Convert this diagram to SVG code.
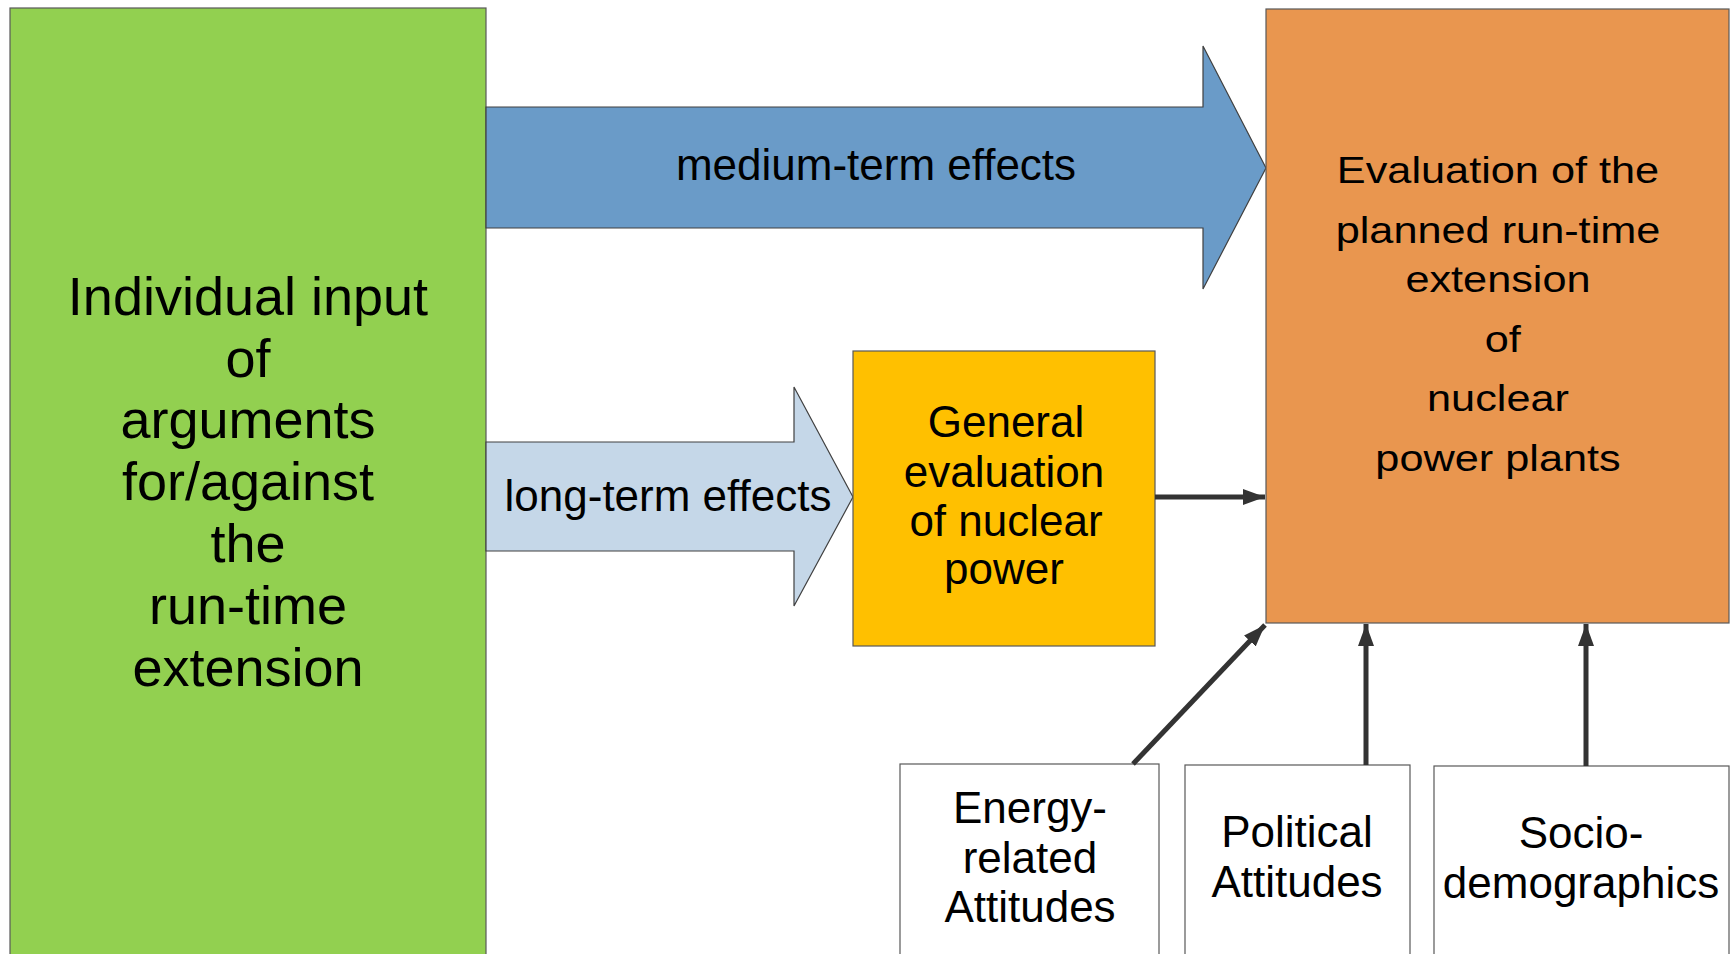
<svg xmlns="http://www.w3.org/2000/svg" width="1734" height="954" viewBox="0 0 1734 954">
<defs>
<style>
.t{font-family:"Liberation Sans",Arial,sans-serif;fill:#000;text-anchor:middle}
.t44{font-size:44px}
.t54{font-size:54px}
.t37{font-size:37px}
.box{stroke:#595959;stroke-width:1.2}
.conn{stroke:#333;stroke-width:5;fill:none}
.fat{stroke:#404040;stroke-width:1.2}
</style>
<marker id="ah" markerUnits="userSpaceOnUse" markerWidth="24" markerHeight="18" refX="22" refY="8" orient="auto">
<path d="M0,0 L22,8 L0,16 z" fill="#333"/>
</marker>
</defs>
<rect width="1734" height="954" fill="#fff"/>

<g id="input">
<rect class="box" x="10" y="8" width="476" height="960" fill="#92D050"/>
<text class="t t54" x="248"><tspan x="248" y="315">Individual input</tspan><tspan x="248" y="377">of</tspan><tspan x="248" y="438">arguments</tspan><tspan x="248" y="500">for/against</tspan><tspan x="248" y="562">the</tspan><tspan x="248" y="624">run-time</tspan><tspan x="248" y="686">extension</tspan></text>
</g>

<g id="medium-term">
<path class="fat" d="M486,107 L1203,107 L1203,46 L1266,168 L1203,289 L1203,228 L486,228 Z" fill="#6A9BC8"/>
<text class="t t44" x="876" y="180">medium-term effects</text>
</g>

<g id="long-term">
<path class="fat" d="M486,442 L794,442 L794,387 L853,497 L794,606 L794,551 L486,551 Z" fill="#C5D7E8"/>
<text class="t t44" x="668" y="511">long-term effects</text>
</g>

<g id="general">
<rect class="box" x="853" y="351" width="302" height="295" fill="#FFC000"/>
<text class="t t44"><tspan x="1006" y="437">General</tspan><tspan x="1004" y="487">evaluation</tspan><tspan x="1006" y="536">of nuclear</tspan><tspan x="1004" y="584">power</tspan></text>
</g>

<g id="evaluation">
<rect class="box" x="1266" y="9" width="463" height="614" fill="#E9964F"/>
<g transform="translate(1498,0) scale(1.17,1)">
<text class="t t37"><tspan x="0" y="183">Evaluation of the</tspan><tspan x="0" y="243">planned run-time</tspan><tspan x="0" y="292">extension</tspan><tspan x="4" y="352">of</tspan><tspan x="0" y="411">nuclear</tspan><tspan x="0" y="471">power plants</tspan></text>
</g>
</g>

<g id="energy">
<rect class="box" x="900" y="764" width="259" height="200" fill="#fff"/>
<text class="t t44"><tspan x="1030" y="823">Energy-</tspan><tspan x="1030" y="873">related</tspan><tspan x="1030" y="922">Attitudes</tspan></text>
</g>

<g id="political">
<rect class="box" x="1185" y="765" width="225" height="200" fill="#fff"/>
<text class="t t44"><tspan x="1297" y="847">Political</tspan><tspan x="1297" y="897">Attitudes</tspan></text>
</g>

<g id="socio">
<rect class="box" x="1434" y="766" width="295" height="200" fill="#fff"/>
<text class="t t44"><tspan x="1581" y="848">Socio-</tspan><tspan x="1581" y="898">demographics</tspan></text>
</g>

<g id="connectors">
<line class="conn" x1="1155" y1="497" x2="1265" y2="497" marker-end="url(#ah)"/>
<line class="conn" x1="1133" y1="764" x2="1265" y2="625" marker-end="url(#ah)"/>
<line class="conn" x1="1366" y1="765" x2="1366" y2="624" marker-end="url(#ah)"/>
<line class="conn" x1="1586" y1="766" x2="1586" y2="624" marker-end="url(#ah)"/>
</g>
</svg>
